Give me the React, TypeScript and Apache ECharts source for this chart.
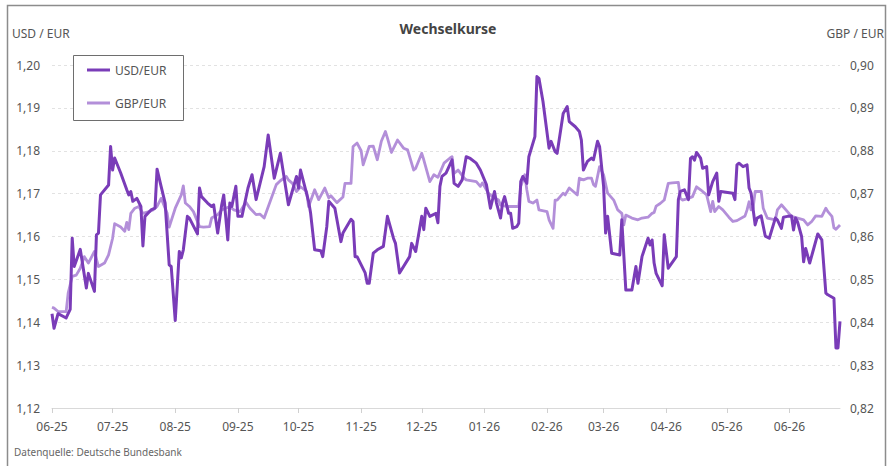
import React, { useEffect, useRef } from "react";
import * as echarts from "echarts";

const FIRST_DAY = "2025-06-01";
const DAY_COUNT = 391;

const seriesNames = ["USD/EUR", "GBP/EUR"];
const leftAxisTitle = "USD / EUR";
const rightAxisTitle = "GBP / EUR";
const chartTitle = "Wechselkurse";
const sourceNote = "Datenquelle: Deutsche Bundesbank";

const usdPoints: [string, number][] = [
  ["2025-06-01", 1.142], ["2025-06-02", 1.1386], ["2025-06-04", 1.142], ["2025-06-08", 1.141],
  ["2025-06-10", 1.143], ["2025-06-11", 1.1596], ["2025-06-12", 1.153], ["2025-06-15", 1.157],
  ["2025-06-18", 1.148], ["2025-06-19", 1.1514], ["2025-06-20", 1.15], ["2025-06-22", 1.1472],
  ["2025-06-23", 1.1604], ["2025-06-24", 1.1608], ["2025-06-25", 1.1697], ["2025-06-29", 1.172],
  ["2025-06-30", 1.181], ["2025-07-01", 1.1755], ["2025-07-02", 1.1783], ["2025-07-05", 1.1748],
  ["2025-07-08", 1.1709], ["2025-07-09", 1.1697], ["2025-07-10", 1.1705], ["2025-07-11", 1.1682],
  ["2025-07-13", 1.1689], ["2025-07-15", 1.167], ["2025-07-16", 1.1578], ["2025-07-17", 1.1647],
  ["2025-07-20", 1.1662], ["2025-07-22", 1.1666], ["2025-07-23", 1.1757], ["2025-07-25", 1.1717],
  ["2025-07-27", 1.1678], ["2025-07-29", 1.1534], ["2025-07-30", 1.153], ["2025-08-01", 1.1404],
  ["2025-08-03", 1.1565], ["2025-08-04", 1.155], ["2025-08-05", 1.1569], ["2025-08-07", 1.1647],
  ["2025-08-08", 1.1643], ["2025-08-12", 1.1606], ["2025-08-13", 1.1713], ["2025-08-14", 1.1693],
  ["2025-08-17", 1.1678], ["2025-08-19", 1.167], ["2025-08-20", 1.1674], ["2025-08-22", 1.1608],
  ["2025-08-24", 1.1674], ["2025-08-25", 1.1697], ["2025-08-27", 1.1592], ["2025-08-28", 1.1678],
  ["2025-08-29", 1.167], ["2025-08-31", 1.1717], ["2025-09-01", 1.1647], ["2025-09-03", 1.1647],
  ["2025-09-06", 1.1713], ["2025-09-08", 1.1744], ["2025-09-10", 1.1686], ["2025-09-14", 1.1763],
  ["2025-09-16", 1.1837], ["2025-09-19", 1.1736], ["2025-09-22", 1.1794], ["2025-09-26", 1.1674],
  ["2025-09-30", 1.174], ["2025-10-01", 1.1713], ["2025-10-02", 1.1755], ["2025-10-06", 1.1682],
  ["2025-10-07", 1.1654], ["2025-10-09", 1.1569], ["2025-10-12", 1.1567], ["2025-10-13", 1.1553],
  ["2025-10-15", 1.1623], ["2025-10-16", 1.1682], ["2025-10-19", 1.1666], ["2025-10-22", 1.1588],
  ["2025-10-23", 1.1608], ["2025-10-27", 1.164], ["2025-10-28", 1.1635], ["2025-10-29", 1.1553],
  ["2025-10-30", 1.1553], ["2025-11-03", 1.1515], ["2025-11-04", 1.1491], ["2025-11-05", 1.1491],
  ["2025-11-07", 1.1561], ["2025-11-09", 1.1569], ["2025-11-12", 1.1577], ["2025-11-14", 1.1647],
  ["2025-11-17", 1.1596], ["2025-11-18", 1.1584], ["2025-11-20", 1.1515], ["2025-11-25", 1.1553],
  ["2025-11-26", 1.1584], ["2025-11-28", 1.1565], ["2025-12-01", 1.1647], ["2025-12-02", 1.1616],
  ["2025-12-03", 1.1666], ["2025-12-05", 1.1647], ["2025-12-08", 1.1654], ["2025-12-09", 1.1632],
  ["2025-12-10", 1.1717], ["2025-12-11", 1.174], ["2025-12-13", 1.1748], ["2025-12-16", 1.1779],
  ["2025-12-17", 1.1724], ["2025-12-19", 1.1717], ["2025-12-21", 1.1732], ["2025-12-23", 1.1786],
  ["2025-12-25", 1.1782], ["2025-12-28", 1.1771], ["2025-12-30", 1.1755], ["2026-01-02", 1.1721],
  ["2026-01-04", 1.1666], ["2026-01-06", 1.1705], ["2026-01-07", 1.1678], ["2026-01-09", 1.1643],
  ["2026-01-10", 1.1678], ["2026-01-11", 1.1693], ["2026-01-13", 1.1654], ["2026-01-14", 1.1654],
  ["2026-01-15", 1.1619], ["2026-01-17", 1.1623], ["2026-01-18", 1.1631], ["2026-01-19", 1.1728],
  ["2026-01-20", 1.174], ["2026-01-22", 1.1724], ["2026-01-23", 1.1786], ["2026-01-26", 1.1833],
  ["2026-01-27", 1.1973], ["2026-01-28", 1.1969], ["2026-01-30", 1.1915], ["2026-02-02", 1.1806],
  ["2026-02-03", 1.1822], ["2026-02-05", 1.1798], ["2026-02-06", 1.1794], ["2026-02-09", 1.1887],
  ["2026-02-11", 1.1903], ["2026-02-12", 1.1868], ["2026-02-15", 1.1856], ["2026-02-17", 1.1845],
  ["2026-02-18", 1.1825], ["2026-02-19", 1.1755], ["2026-02-21", 1.1775], ["2026-02-23", 1.1783],
  ["2026-02-24", 1.1779], ["2026-02-26", 1.1822], ["2026-02-27", 1.181], ["2026-03-01", 1.1717],
  ["2026-03-02", 1.1608], ["2026-03-03", 1.1647], ["2026-03-05", 1.1561], ["2026-03-09", 1.1557],
  ["2026-03-10", 1.1639], ["2026-03-12", 1.1475], ["2026-03-15", 1.1475], ["2026-03-17", 1.153],
  ["2026-03-18", 1.1491], ["2026-03-20", 1.1553], ["2026-03-23", 1.1596], ["2026-03-24", 1.158],
  ["2026-03-25", 1.1592], ["2026-03-26", 1.1538], ["2026-03-27", 1.1514], ["2026-03-30", 1.1485],
  ["2026-03-31", 1.1604], ["2026-04-02", 1.1526], ["2026-04-06", 1.1553], ["2026-04-07", 1.1686],
  ["2026-04-08", 1.1705], ["2026-04-10", 1.1709], ["2026-04-12", 1.1686], ["2026-04-13", 1.1782],
  ["2026-04-14", 1.1786], ["2026-04-15", 1.1778], ["2026-04-16", 1.1796], ["2026-04-18", 1.1783],
  ["2026-04-19", 1.1759], ["2026-04-21", 1.1763], ["2026-04-22", 1.1697], ["2026-04-24", 1.1728],
  ["2026-04-26", 1.1748], ["2026-04-27", 1.1682], ["2026-04-28", 1.1705], ["2026-05-04", 1.1701],
  ["2026-05-05", 1.1686], ["2026-05-06", 1.1767], ["2026-05-07", 1.1771], ["2026-05-09", 1.1763],
  ["2026-05-11", 1.1767], ["2026-05-12", 1.1713], ["2026-05-13", 1.1701], ["2026-05-15", 1.1627],
  ["2026-05-16", 1.1643], ["2026-05-18", 1.1648], ["2026-05-20", 1.1601], ["2026-05-22", 1.1596],
  ["2026-05-24", 1.1627], ["2026-05-25", 1.1643], ["2026-05-26", 1.1639], ["2026-05-28", 1.1619],
  ["2026-05-29", 1.1645], ["2026-05-31", 1.1647], ["2026-06-02", 1.1648], ["2026-06-03", 1.1615],
  ["2026-06-04", 1.1643], ["2026-06-05", 1.1634], ["2026-06-07", 1.16], ["2026-06-08", 1.1541],
  ["2026-06-09", 1.1572], ["2026-06-11", 1.1538], ["2026-06-13", 1.1572], ["2026-06-15", 1.1606],
  ["2026-06-17", 1.1592], ["2026-06-19", 1.1468], ["2026-06-20", 1.1464], ["2026-06-23", 1.1456],
  ["2026-06-24", 1.134], ["2026-06-25", 1.134], ["2026-06-26", 1.1402],
];

const gbpPoints: [string, number][] = [
  ["2025-06-01", 0.8435], ["2025-06-02", 0.8433], ["2025-06-04", 0.8425], ["2025-06-08", 0.8425],
  ["2025-06-09", 0.8468], ["2025-06-11", 0.8507], ["2025-06-13", 0.851], ["2025-06-15", 0.8526],
  ["2025-06-17", 0.8553], ["2025-06-19", 0.8538], ["2025-06-22", 0.8565], ["2025-06-24", 0.853],
  ["2025-06-27", 0.8538], ["2025-06-29", 0.8557], ["2025-07-01", 0.8596], ["2025-07-02", 0.863],
  ["2025-07-05", 0.8622], ["2025-07-07", 0.8612], ["2025-07-08", 0.8633], ["2025-07-09", 0.8616],
  ["2025-07-10", 0.8654], ["2025-07-12", 0.8666], ["2025-07-14", 0.867], ["2025-07-16", 0.8654],
  ["2025-07-19", 0.8658], ["2025-07-21", 0.8662], ["2025-07-23", 0.867], ["2025-07-25", 0.8689],
  ["2025-07-28", 0.8654], ["2025-07-29", 0.8622], ["2025-08-01", 0.8666], ["2025-08-04", 0.8697],
  ["2025-08-05", 0.8718], ["2025-08-06", 0.8678], ["2025-08-08", 0.867], ["2025-08-10", 0.8658],
  ["2025-08-13", 0.8623], ["2025-08-15", 0.8622], ["2025-08-18", 0.8623], ["2025-08-19", 0.8643],
  ["2025-08-22", 0.8651], ["2025-08-24", 0.8662], ["2025-08-28", 0.867], ["2025-08-30", 0.8662],
  ["2025-09-02", 0.8658], ["2025-09-05", 0.868], ["2025-09-07", 0.8666], ["2025-09-10", 0.8651],
  ["2025-09-12", 0.8652], ["2025-09-14", 0.8643], ["2025-09-17", 0.8682], ["2025-09-20", 0.8721],
  ["2025-09-22", 0.873], ["2025-09-25", 0.874], ["2025-09-26", 0.8732], ["2025-09-28", 0.8724],
  ["2025-09-30", 0.8705], ["2025-10-02", 0.8716], ["2025-10-05", 0.8705], ["2025-10-06", 0.867],
  ["2025-10-09", 0.8709], ["2025-10-11", 0.8686], ["2025-10-14", 0.8713], ["2025-10-16", 0.869],
  ["2025-10-17", 0.8695], ["2025-10-20", 0.8679], ["2025-10-23", 0.8692], ["2025-10-24", 0.8724],
  ["2025-10-27", 0.8724], ["2025-10-28", 0.881], ["2025-10-30", 0.8818], ["2025-11-01", 0.88],
  ["2025-11-02", 0.8767], ["2025-11-05", 0.881], ["2025-11-07", 0.8811], ["2025-11-09", 0.8779],
  ["2025-11-11", 0.8822], ["2025-11-13", 0.8845], ["2025-11-14", 0.883], ["2025-11-16", 0.8796],
  ["2025-11-19", 0.8825], ["2025-11-22", 0.8806], ["2025-11-24", 0.8802], ["2025-11-27", 0.8755],
  ["2025-11-28", 0.8759], ["2025-12-01", 0.8794], ["2025-12-02", 0.8779], ["2025-12-05", 0.8728],
  ["2025-12-07", 0.8744], ["2025-12-09", 0.8738], ["2025-12-12", 0.8771], ["2025-12-15", 0.8783],
  ["2025-12-16", 0.8786], ["2025-12-17", 0.8747], ["2025-12-19", 0.8755], ["2025-12-22", 0.8736],
  ["2025-12-23", 0.8732], ["2025-12-28", 0.8728], ["2025-12-30", 0.8717], ["2025-12-31", 0.8725],
  ["2026-01-03", 0.8701], ["2026-01-05", 0.8693], ["2026-01-08", 0.8685], ["2026-01-09", 0.8673],
  ["2026-01-12", 0.867], ["2026-01-14", 0.867], ["2026-01-18", 0.867], ["2026-01-19", 0.8717],
  ["2026-01-21", 0.8744], ["2026-01-22", 0.8709], ["2026-01-23", 0.8682], ["2026-01-25", 0.8678],
  ["2026-01-27", 0.8685], ["2026-01-28", 0.8662], ["2026-02-01", 0.8658], ["2026-02-02", 0.8639],
  ["2026-02-04", 0.8619], ["2026-02-05", 0.8685], ["2026-02-06", 0.8685], ["2026-02-09", 0.8701],
  ["2026-02-10", 0.8697], ["2026-02-12", 0.8713], ["2026-02-14", 0.8705], ["2026-02-16", 0.8697],
  ["2026-02-17", 0.8736], ["2026-02-19", 0.8732], ["2026-02-21", 0.8736], ["2026-02-23", 0.8736],
  ["2026-02-24", 0.8721], ["2026-02-25", 0.8717], ["2026-02-27", 0.8763], ["2026-03-01", 0.8744],
  ["2026-03-03", 0.8701], ["2026-03-06", 0.8685], ["2026-03-08", 0.8662], ["2026-03-10", 0.8654],
  ["2026-03-11", 0.8627], ["2026-03-12", 0.865], ["2026-03-15", 0.8643], ["2026-03-18", 0.8639],
  ["2026-03-20", 0.8643], ["2026-03-23", 0.8645], ["2026-03-25", 0.8654], ["2026-03-26", 0.8656],
  ["2026-03-27", 0.8671], ["2026-03-29", 0.8677], ["2026-03-31", 0.8685], ["2026-04-02", 0.8724],
  ["2026-04-04", 0.8725], ["2026-04-07", 0.8726], ["2026-04-08", 0.8689], ["2026-04-09", 0.8685],
  ["2026-04-12", 0.8689], ["2026-04-14", 0.8693], ["2026-04-16", 0.8716], ["2026-04-18", 0.8709],
  ["2026-04-21", 0.8697], ["2026-04-23", 0.8658], ["2026-04-24", 0.8682], ["2026-04-25", 0.8658],
  ["2026-04-27", 0.867], ["2026-04-29", 0.8662], ["2026-05-02", 0.8645], ["2026-05-04", 0.8635],
  ["2026-05-06", 0.8637], ["2026-05-10", 0.8648], ["2026-05-11", 0.8662], ["2026-05-12", 0.8681],
  ["2026-05-13", 0.8662], ["2026-05-14", 0.8666], ["2026-05-15", 0.8705], ["2026-05-18", 0.8705],
  ["2026-05-19", 0.8666], ["2026-05-21", 0.8643], ["2026-05-25", 0.8639], ["2026-05-26", 0.8662],
  ["2026-05-28", 0.8674], ["2026-05-31", 0.8658], ["2026-06-02", 0.8647], ["2026-06-05", 0.8643],
  ["2026-06-08", 0.8639], ["2026-06-10", 0.8627], ["2026-06-12", 0.8635], ["2026-06-14", 0.8648],
  ["2026-06-17", 0.8647], ["2026-06-19", 0.8666], ["2026-06-20", 0.8658], ["2026-06-22", 0.8647],
  ["2026-06-23", 0.862], ["2026-06-24", 0.8617], ["2026-06-26", 0.8627],
];

const leftAxisRange = { min: 1.12, max: 1.2, step: 0.01 };
const rightAxisRange = { min: 0.82, max: 0.9, step: 0.01 };

function buildDays(): string[] {
  const out: string[] = [];
  const start = Date.parse(FIRST_DAY + "T00:00:00Z");
  for (let i = 0; i < DAY_COUNT; i++) {
    out.push(new Date(start + i * 86400000).toISOString().slice(0, 10));
  }
  return out;
}

function toSeries(days: string[], points: [string, number][]): (number | null)[] {
  const idx = new Map<string, number>();
  days.forEach((d, i) => idx.set(d, i));
  const arr: (number | null)[] = days.map(() => null);
  points.forEach(([d, v]) => {
    const i = idx.get(d);
    if (i !== undefined) arr[i] = v;
  });
  return arr;
}

const FONT = "'Noto Sans', sans-serif";
const USD_COLOR = "#7a3cb8";
const GBP_COLOR = "#b38fd9";

export default function App() {
  const ref = useRef<HTMLDivElement>(null);

  useEffect(() => {
    document.body.style.margin = "0";
    if (!ref.current) return;
    const chart = echarts.init(ref.current, undefined, { renderer: "svg" });
    const days = buildDays();
    const isMonthStart = (_i: number, v: string) => v.slice(8, 10) === "01";
    const fmtComma = (v: number) => v.toFixed(2).replace(".", ",");

    chart.setOption({
      animation: false,
      backgroundColor: "#ffffff",
      textStyle: { fontFamily: FONT },
      grid: { left: 52, right: 56, top: 65, bottom: 58, containLabel: false },
      legend: {
        data: seriesNames,
        orient: "vertical",
        left: 87,
        top: 63,
        padding: 0,
        itemGap: 19,
        itemWidth: 23,
        itemHeight: 3,
        icon: "rect",
        textStyle: { color: "#555", fontSize: 12, fontFamily: FONT, lineHeight: 14 },
      },
      xAxis: {
        type: "category",
        data: days,
        boundaryGap: false,
        axisLine: { show: true, lineStyle: { color: "#d9d9d9", width: 1 } },
        axisTick: { show: true, interval: isMonthStart, length: 5, lineStyle: { color: "#d0d0d0" } },
        axisLabel: {
          interval: isMonthStart,
          formatter: (v: string) => v.slice(5, 7) + "-" + v.slice(2, 4),
          color: "#555",
          fontSize: 12,
          margin: 12,
          fontFamily: FONT,
        },
        splitLine: { show: false },
      },
      yAxis: [
        {
          type: "value",
          min: leftAxisRange.min,
          max: leftAxisRange.max,
          interval: leftAxisRange.step,
          axisLine: { show: false },
          axisTick: { show: false },
          axisLabel: { formatter: fmtComma, color: "#555", fontSize: 12, margin: 12, fontFamily: FONT },
          splitLine: { show: true, lineStyle: { color: "#e2e2e2", type: [3, 3], width: 1 } },
        },
        {
          type: "value",
          position: "right",
          min: rightAxisRange.min,
          max: rightAxisRange.max,
          interval: rightAxisRange.step,
          axisLine: { show: false },
          axisTick: { show: false },
          axisLabel: { formatter: fmtComma, color: "#555", fontSize: 12, margin: 10, fontFamily: FONT },
          splitLine: { show: false },
        },
      ],
      series: [
        {
          name: seriesNames[1],
          type: "line",
          yAxisIndex: 1,
          data: toSeries(days, gbpPoints),
          connectNulls: true,
          showSymbol: false,
          symbol: "none",
          lineStyle: { color: GBP_COLOR, width: 2.8, join: "round" },
          itemStyle: { color: GBP_COLOR },
          z: 2,
        },
        {
          name: seriesNames[0],
          type: "line",
          yAxisIndex: 0,
          data: toSeries(days, usdPoints),
          connectNulls: true,
          showSymbol: false,
          symbol: "none",
          lineStyle: { color: USD_COLOR, width: 3, join: "round" },
          itemStyle: { color: USD_COLOR },
          z: 3,
        },
      ],
      graphic: [
        {
          type: "rect",
          silent: true,
          z: -10,
          shape: { x: 7.5, y: 5.5, width: 878, height: 470 },
          style: { fill: "none", stroke: "#8c8c8c", lineWidth: 1.5 },
        },
        {
          type: "rect",
          silent: true,
          z: 1,
          shape: { x: 73.5, y: 55.5, width: 110, height: 65 },
          style: { fill: "#ffffff", stroke: "#6e6e6e", lineWidth: 1 },
        },
        {
          type: "text",
          x: 448,
          y: 28,
          style: {
            text: chartTitle,
            fill: "#444",
            font: "bold 14px " + FONT,
            textAlign: "center",
            textVerticalAlign: "middle",
          },
        },
        {
          type: "text",
          x: 12,
          y: 33,
          style: { text: leftAxisTitle, fill: "#555", font: "12px " + FONT, textAlign: "left", textVerticalAlign: "middle" },
        },
        {
          type: "text",
          x: 884,
          y: 33,
          style: { text: rightAxisTitle, fill: "#555", font: "12px " + FONT, textAlign: "right", textVerticalAlign: "middle" },
        },
        {
          type: "text",
          x: 14,
          y: 452,
          style: { text: sourceNote, fill: "#666", font: "10px " + FONT, textAlign: "left", textVerticalAlign: "middle" },
        },
      ],
    });

    return () => chart.dispose();
  }, []);

  return <div ref={ref} style={{ width: 896, height: 466 }} />;
}
